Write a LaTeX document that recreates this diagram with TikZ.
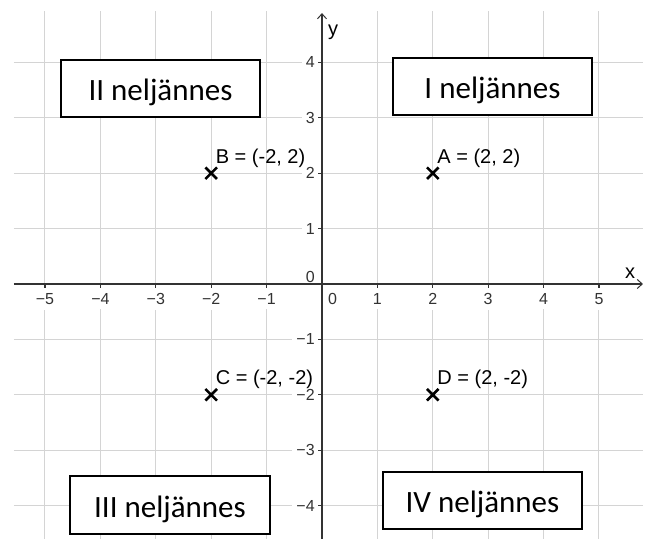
\documentclass[tikz,border=0pt]{standalone}
\usepackage{fontspec}
\setmainfont{Liberation Sans}
\newfontfamily\boxfont{Carlito}
\usetikzlibrary{shapes.misc,arrows.meta}
\definecolor{gridgray}{HTML}{D4D4D4}
\definecolor{axisgray}{HTML}{333333}
\begin{document}
\begin{tikzpicture}[x=55.4pt,y=55.4pt,
  gridline/.style={draw=gridgray, line width=1pt},
  axisline/.style={draw=axisgray, line width=1.2pt},
  tickmark/.style={draw=axisgray, line width=1.2pt},
  ticklabel/.style={fill=white, inner xsep=4pt, inner ysep=5pt, text=axisgray, font=\fontsize{16}{18}\selectfont},
  ptmark/.style={cross out, draw=black, line width=2.6pt, minimum size=9pt, inner sep=0pt},
  ptlabel/.style={anchor=base west, inner sep=0pt, font=\fontsize{20}{23}\selectfont},
  axislabel/.style={inner sep=0pt, font=\fontsize{20}{23}\selectfont},
  quadbox/.style={draw=black, fill=white, line width=2pt, minimum width=199pt, minimum height=57pt, inner sep=0pt, text height=24pt, text depth=0pt, font=\boxfont\fontsize{31}{36}\selectfont}
]
\useasboundingbox (-5.812,-4.603) rectangle (5.939,5.126);
\fill[white] (-5.812,-4.603) rectangle (5.939,5.126);
% grid
\foreach \i in {-5,-4,-3,-2,-1,1,2,3,4,5}
  \draw[gridline] (\i,-4.603) -- (\i,4.928);
\foreach \j in {-4,-3,-2,-1,1,2,3,4}
  \draw[gridline] (-5.56,\j) -- (5.794,\j);
% x tick labels
\foreach \i/\t/\n in {-5/−5/m5,-4/−4/m4,-3/−3/m3,-2/−2/m2,-1/−1/m1,1/1/p1,2/2/p2,3/3/p3,4/4/p4,5/5/p5}
  \node[ticklabel] (xl\n) at (\i,-0.27) {\t};
\node[ticklabel] (xl0) at (0.19,-0.27) {0};
% y tick labels
\foreach \j/\t/\n in {-4/−4/m4,-3/−3/m3,-2/−2/m2,-1/−1/m1,1/1/p1,2/2/p2,3/3/p3,4/4/p4}
  \node[ticklabel, anchor=east] (yl\n) at (-0.055,\j) {\t};
\node[ticklabel, anchor=east, fill=none] (yl0) at (-0.055,0.13) {0};
% axes
\coordinate (xs) at (-5.56,0);
\coordinate (xe) at (5.794,0);
\coordinate (ys) at (0,-4.603);
\coordinate (ye) at (0,4.89);
\draw[axisline, -{Straight Barb[length=5pt,width=9pt,line width=1pt]}] (xs) -- (xe);
\draw[axisline, -{Straight Barb[length=5pt,width=9pt,line width=1pt]}] (ys) -- (ye);
\foreach \i in {-5,-4,-3,-2,-1,1,2,3,4,5}
  \draw[tickmark] (\i,0) -- (\i,-0.07);
\foreach \j in {-4,-3,-2,-1,1,2,3,4}
  \draw[tickmark] (0,\j) -- (-0.07,\j);
\node[axislabel] (xlab) at (5.56,0.19) {x};
\node[axislabel] (ylab) at (0.2,4.55) {y};
% points
\node[ptmark] (A) at (2,2) {};
\node[ptmark] (B) at (-2,2) {};
\node[ptmark] (C) at (-2,-2) {};
\node[ptmark] (D) at (2,-2) {};
\node[ptlabel] (Al) at (2.08,2.18) {A = (2, 2)};
\node[ptlabel] (Bl) at (-1.92,2.17) {B = (-2, 2)};
\node[ptlabel] (Cl) at (-1.92,-1.82) {C = (-2, -2)};
\node[ptlabel] (Dl) at (2.08,-1.82) {D = (2, -2)};
% quadrant boxes
\node[quadbox] (q2) at (-2.915,3.529) {II neljännes};
\node[quadbox] (q1) at (3.078,3.565) {I neljännes};
\node[quadbox, minimum width=200pt, minimum height=58pt] (q3) at (-2.744,-3.990) {III neljännes};
\node[quadbox] (q4) at (2.897,-3.908) {IV neljännes};
\end{tikzpicture}
\end{document}
